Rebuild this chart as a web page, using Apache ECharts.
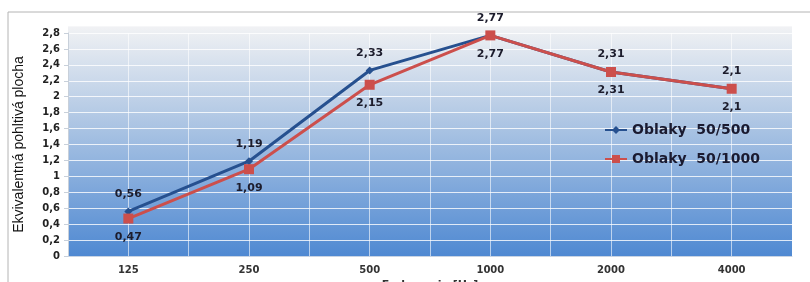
<!DOCTYPE html>
<html>
<head>
<meta charset="utf-8">
<script src="https://cdn.jsdelivr.net/npm/echarts@6/dist/echarts.min.js"></script>
<style>
  html, body { margin: 0; padding: 0; background: #fff; }
  #chart { width: 810px; height: 282px; }
</style>
</head>
<body>
<div id="chart"></div>
<script>
const categories = ['125', '250', '500', '1000', '2000', '4000'];
const seriesNames = ['Oblaky  50/500', 'Oblaky  50/1000'];
const oblaky500 = [0.56, 1.19, 2.33, 2.77, 2.31, 2.1];
const oblaky1000 = [0.47, 1.09, 2.15, 2.77, 2.31, 2.1];

const comma = v => String(v).replace('.', ',');

const myChart = echarts.init(document.getElementById('chart'));

const labelStyle = {
  show: true,
  fontFamily: 'DejaVu Sans',
  fontWeight: 'bold',
  fontSize: 11,
  color: '#1c1c2c',
  distance: 8,
  formatter: p => comma(p.value),
};

const option = {
  animation: false,
  graphic: [
    // outer frame
    { type: 'polyline', z: -10, shape: { points: [[8, 282], [8, 12], [810, 12]] },
      style: { stroke: '#b4b4b4', lineWidth: 1, fill: null } },
    // plot background
    { type: 'rect', z: -5, shape: { x: 68, y: 26, width: 724, height: 230 },
      style: {
        fill: new echarts.graphic.LinearGradient(0, 0, 0, 1, [
          { offset: 0, color: '#f1f2f4' },
          { offset: 0.35, color: '#b9cde6' },
          { offset: 1, color: '#4f89d2' },
        ]),
      } },
    { type: 'line', z: -4, shape: { x1: 68, y1: 26, x2: 792, y2: 26 },
      style: { stroke: 'rgba(255,255,255,0.8)', lineWidth: 1 } },
  ],
  grid: { left: 68, right: 18, top: 33, bottom: 26, containLabel: false, outerBoundsMode: 'none' },
  legend: {
    orient: 'vertical',
    left: 599,
    top: 118,
    itemGap: 15,
    itemWidth: 22,
    itemHeight: 10,
    textStyle: { fontFamily: 'DejaVu Sans', fontWeight: 'bold', fontSize: 14, color: '#1a1a30' },
    data: seriesNames,
  },
  xAxis: [
    {
      type: 'category',
      data: categories,
      boundaryGap: true,
      name: 'Frekvencia [Hz]',
      nameLocation: 'middle',
      nameGap: 20,
      nameTextStyle: { fontFamily: 'DejaVu Sans', fontWeight: 'bold', fontSize: 11, color: '#333' },
      axisLine: { lineStyle: { color: '#c8d4e4' } },
      axisTick: { show: false },
      axisLabel: { fontFamily: 'DejaVu Sans', fontWeight: 'bold', fontSize: 10, color: '#333', margin: 9 },
      splitLine: { show: false },
    },
    {
      // helper axis: vertical gridlines at every half category
      type: 'category',
      data: categories.flatMap(c => [c, c]),
      boundaryGap: true,
      position: 'bottom',
      axisLine: { show: false },
      axisTick: { show: false },
      axisLabel: { show: false },
      splitLine: { show: true, interval: 0, lineStyle: { color: 'rgba(255,255,255,0.6)', width: 1 } },
    },
  ],
  yAxis: {
    type: 'value',
    min: 0,
    max: 2.8,
    interval: 0.2,
    name: 'Ekvivalentná pohltivá plocha',
    nameLocation: 'middle',
    nameGap: 42,
    nameRotate: 90,
    nameTextStyle: { fontFamily: 'Liberation Sans', fontSize: 14, color: '#111' },
    axisLine: { show: true, lineStyle: { color: '#c8d0da' } },
    axisTick: { show: true, length: 4, lineStyle: { color: '#c8d0da' } },
    axisLabel: {
      fontFamily: 'DejaVu Sans', fontWeight: 'bold', fontSize: 10, color: '#222', margin: 8,
      formatter: v => comma(Math.round(v * 10) / 10),
    },
    splitLine: { lineStyle: { color: 'rgba(255,255,255,0.8)', width: 1 } },
  },
  series: [
    {
      name: seriesNames[0],
      type: 'line',
      data: oblaky500,
      symbol: 'diamond',
      symbolSize: 8,
      lineStyle: { color: '#26508f', width: 3 },
      itemStyle: { color: '#26508f' },
      label: Object.assign({}, labelStyle, { position: 'top' }),
      z: 2,
    },
    {
      name: seriesNames[1],
      type: 'line',
      data: oblaky1000,
      symbol: 'rect',
      symbolSize: 10,
      lineStyle: { color: '#cc4f4c', width: 3 },
      itemStyle: { color: '#cc4f4c' },
      label: Object.assign({}, labelStyle, { position: 'bottom' }),
      z: 3,
    },
  ],
};

myChart.setOption(option);
</script>
</body>
</html>
